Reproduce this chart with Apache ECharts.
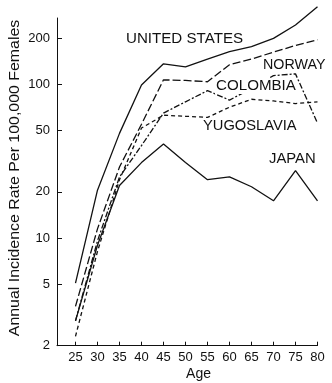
<!DOCTYPE html>
<html><head><meta charset="utf-8">
<script src="https://cdn.jsdelivr.net/npm/echarts@6/dist/echarts.min.js"></script>
<style>html,body{margin:0;padding:0;background:#fff}#c{width:332px;height:383px}</style>
</head><body><div id="c"></div>
<script>
const ages = [25, 30, 35, 40, 45, 50, 55, 60, 65, 70, 75, 80];
const unitedStates = [5.1, 20.5, 48, 99, 136, 130, 146, 163, 176, 199, 243, 320];
const norway = [3.6, 11.5, 29, 55, 107, 106, 104, 134, 146, 162, 179, 195];
const colombia = [2.9, 9.6, 25, 40, 65, 77, 91, 79, 94, 114, 117, 56];
const yugoslavia = [2.3, 8.2, 24, 52, 63, 62, 61, 71, 80, 78, 75, 77];
const japan = [2.9, 9.0, 22, 31, 41, 31, 24, 25, 21.6, 17.5, 27.5, 17.5];
const yTicks = [2, 5, 10, 20, 50, 100, 200];
const xTicks = [25, 30, 35, 40, 45, 50, 55, 60, 65, 70, 75, 80];
const seriesNames = ['UNITED STATES', 'NORWAY', 'COLOMBIA', 'YUGOSLAVIA', 'JAPAN'];
const yTitle = 'Annual Incidence Rate Per 100,000 Females';
const xTitle = 'Age';

const FONT = '"Liberation Sans", Arial, Helvetica, sans-serif';
const chart = echarts.init(document.getElementById('c'), null, {renderer: 'canvas'});

function mk(name, vals, dash) {
  return {
    name: name, type: 'line', clip: false, symbol: 'none', silent: true,
    data: ages.map((a, i) => [a, vals[i]]),
    lineStyle: {color: '#111', width: 1.3, type: dash},
    z: 3
  };
}

function label(text, x, y, sx, bg) {
  const t = {
    type: 'text', x: x, y: y, scaleX: sx, z: 20,
    style: {text: text, fill: '#111', font: '14px ' + FONT, textAlign: 'left', textVerticalAlign: 'middle'}
  };
  if (bg) { t.style.backgroundColor = '#fff'; t.style.padding = [1, 1, 1, 1]; }
  return t;
}

chart.setOption({
  animation: false,
  backgroundColor: '#fff',
  grid: {left: 57, right: 14.5, top: 18, bottom: 37.3, containLabel: false, outerBoundsMode: 'none'},
  xAxis: {
    type: 'value', min: 20.8, max: 80,
    axisLine: {show: true, lineStyle: {color: '#111', width: 1}},
    axisTick: {show: true, inside: true, length: 4, customValues: xTicks, lineStyle: {color: '#111'}},
    axisLabel: {customValues: xTicks, color: '#111', fontSize: 13, fontFamily: FONT, margin: 5},
    splitLine: {show: false}
  },
  yAxis: {
    type: 'log', logBase: 10, min: 2, max: 270,
    axisLine: {show: true, lineStyle: {color: '#111', width: 1}},
    axisTick: {show: true, inside: true, length: 5, customValues: yTicks, lineStyle: {color: '#111'}},
    axisLabel: {customValues: yTicks, color: '#111', fontSize: 13, fontFamily: FONT, margin: 7,
      formatter: v => String(Math.round(v))},
    splitLine: {show: false},
    minorTick: {show: false}
  },
  series: [
    mk(seriesNames[0], unitedStates, 'solid'),
    mk(seriesNames[1], norway, [8, 3]),
    mk(seriesNames[2], colombia, [6, 2, 2, 2]),
    mk(seriesNames[3], yugoslavia, [4, 3]),
    mk(seriesNames[4], japan, 'solid')
  ],
  graphic: [
    label(seriesNames[0], 126, 39, 1.08),
    label(seriesNames[1], 263, 65.5, 1.02),
    label(seriesNames[2], 215, 86, 1.08, true),
    label(seriesNames[3], 203, 126, 1.05),
    label(seriesNames[4], 269, 159, 1.06),
    {type: 'text', x: 198.5, y: 374.5, scaleX: 1.0, z: 20,
      style: {text: xTitle, fill: '#111', font: '14px ' + FONT, textAlign: 'center', textVerticalAlign: 'middle'}},
    {type: 'text', x: 15, y: 178, rotation: Math.PI / 2, scaleX: 1.06, z: 20,
      style: {text: yTitle, fill: '#111', font: '15px ' + FONT, textAlign: 'center', textVerticalAlign: 'middle'}}
  ]
});
</script>
</body></html>
